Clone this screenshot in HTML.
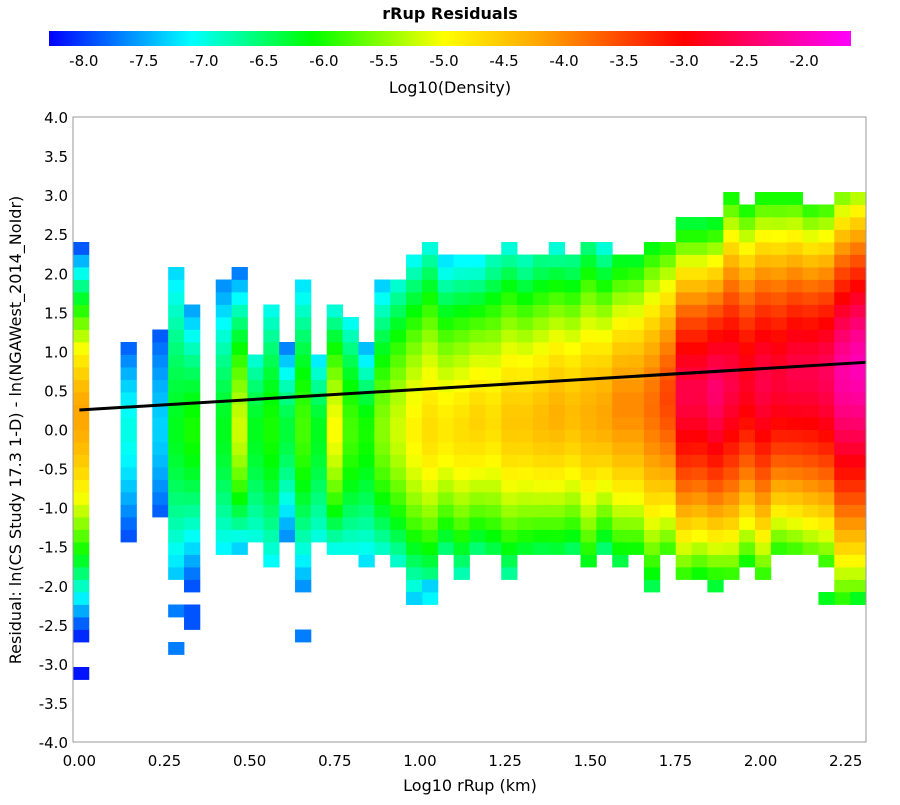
<!DOCTYPE html>
<html><head><meta charset="utf-8"><style>
body{margin:0;background:#fff;}
svg text{font-family:"DejaVu Sans","Liberation Sans",sans-serif;}
</style></head><body>
<svg id="chart" width="900" height="800" xmlns="http://www.w3.org/2000/svg">
<text x="450" y="19" text-anchor="middle" font-size="16" font-weight="bold">rRup Residuals</text>
<defs><linearGradient id="cb" x1="0" x2="1" y1="0" y2="0">
<stop offset="0" stop-color="#0000ff"/><stop offset="0.178" stop-color="#00ffff"/><stop offset="0.328" stop-color="#00ff00"/><stop offset="0.493" stop-color="#ffff00"/><stop offset="0.612" stop-color="#ffa500"/><stop offset="0.792" stop-color="#ff0000"/><stop offset="1" stop-color="#ff00ff"/></linearGradient></defs>
<rect x="49" y="31" width="802" height="15" fill="url(#cb)"/>
<g id="cbticks"></g>
<text x="450" y="93" text-anchor="middle" font-size="16">Log10(Density)</text>
<g id="cells"></g>
<line id="fit" stroke="#000" stroke-width="3"/>
<rect x="73" y="117" width="793" height="625" fill="none" stroke="#999" stroke-width="1"/>
<g id="axes"></g>
<text x="470" y="791" text-anchor="middle" font-size="16">Log10 rRup (km)</text>
<text transform="translate(21,430) rotate(-90)" text-anchor="middle" font-size="16">Residual: ln(CS Study 17.3 1-D) - ln(NGAWest_2014_NoIdr)</text>
</svg>
<script>
// column profiles (50 x-bins, y-bins of 0.16)
const colTop = [2.4,null,null,1.1,null,1.25,2.05,1.5,null,1.8,2.05,0.95,1.6,1.1,1.8,0.95,1.6,1.4,1.0,1.9,1.9,2.2,2.35,2.1,2.1,2.1,2.1,2.35,2.1,2.1,2.35,2.1,2.35,2.35,2.1,2.2,2.35,2.35,2.6,2.6,2.6,3.0,2.85,3.0,3.0,3.0,2.85,2.85,3.0,3.0];
const colBottom = [-2.6,null,null,-1.3,null,-1.1,-1.9,-1.95,null,-1.6,-1.5,-1.4,-1.7,-1.3,-2.0,-1.4,-1.5,-1.5,-1.75,-1.6,-1.75,-2.2,-2.2,-1.6,-1.9,-1.6,-1.6,-1.9,-1.6,-1.6,-1.5,-1.6,-1.75,-1.6,-1.75,-1.6,-2.0,-1.6,-1.9,-1.9,-2.0,-1.9,-1.75,-1.9,-1.5,-1.6,-1.6,-1.75,-2.2,-2.2];
const colPeak = [-4.2,null,null,-7.0,null,-7.3,-6.2,-6.0,null,-6.2,-5.2,-6.2,-6.0,-6.3,-5.8,-6.2,-5.0,-5.8,-6.0,-5.5,-5.2,-4.9,-4.7,-4.8,-4.7,-4.6,-4.7,-4.5,-4.5,-4.4,-4.3,-4.4,-4.3,-4.2,-4.0,-4.0,-3.8,-3.5,-2.6,-2.6,-2.4,-2.6,-2.8,-2.6,-2.7,-2.6,-2.6,-2.5,-2.1,-2.0];
const colCenter = [0.2,null,null,0,null,0,0,0,null,0,0,0,0,0,0,0,0,0,0,0,0,0,0,0,0,0.1,0.1,0.1,0.1,0.1,0.2,0.2,0.2,0.2,0.3,0.3,0.3,0.4,0.5,0.5,0.5,0.6,0.6,0.6,0.6,0.7,0.7,0.7,0.7,0.8];
const colTopEdge = [-8.1,null,null,-7.9,null,-7.9,-7.3,-7.5,null,-7.6,-7.8,-7.0,-7.1,-7.8,-7.2,-7.3,-7.1,-7.1,-7.4,-7.4,-7.0,-7.1,-7.0,-7.2,-7.1,-7.1,-6.8,-7.0,-6.8,-6.6,-7.0,-6.6,-6.6,-7.0,-6.2,-6.3,-6.2,-6.0,-6.3,-6.3,-6.2,-6.1,-6.1,-6.1,-6.1,-6.1,-6.0,-5.9,-5.6,-5.4];
const colBotEdge = [-8.1,null,null,-7.9,null,-7.9,-7.4,-7.9,null,-7.2,-7.3,-7.0,-7.1,-7.6,-7.6,-7.0,-7.0,-7.0,-7.3,-7.0,-7.0,-7.3,-7.2,-6.7,-6.9,-6.7,-6.5,-6.8,-6.4,-6.5,-6.3,-6.6,-6.3,-6.7,-6.5,-6.2,-6.4,-6.0,-6.0,-6.2,-6.3,-6.0,-6.2,-6.0,-5.9,-6.0,-5.8,-6.0,-6.0,-6.0];
// isolated cells: x-bin, y value, log density
const outCol = [0,6,6,7,7,14,21,22,47,49];
const outY = [-3.1,-2.4,-2.8,-2.4,-2.55,-2.65,-2.2,-2.05,-2.15,-2.15];
const outVal = [-8.2,-7.7,-7.7,-7.9,-7.9,-7.7,-7.3,-7.3,-6.2,-6.2];
const cbTicks = [-8.0,-7.5,-7.0,-6.5,-6.0,-5.5,-5.0,-4.5,-4.0,-3.5,-3.0,-2.5,-2.0];
const xTicks = [0,0.25,0.5,0.75,1.0,1.25,1.5,1.75,2.0,2.25];
const yTicks = [4,3.5,3,2.5,2,1.5,1,0.5,0,-0.5,-1,-1.5,-2,-2.5,-3,-3.5,-4];
const fitX = [0, 2.31];
const fitY = [0.25, 0.86];

const NS="http://www.w3.org/2000/svg";
const X0=-0.0186, X1=2.3095, PL=73, PR=866, PT=117, PB=742;
const sx=v=>PL+(v-X0)/(X1-X0)*(PR-PL);
const sy=v=>PT+(4-v)/8*(PB-PT);
const binW=(X1-X0)/50, binH=0.16;
const cbx=v=>49+(v+8.29)/(6.68)*802;
const stops=[[-8.29,[0,0,255]],[-7.1,[0,255,255]],[-6.1,[0,255,0]],[-5.0,[255,255,0]],[-4.2,[255,165,0]],[-3.0,[255,0,0]],[-1.61,[255,0,255]]];
function color(v){
  if(v<=stops[0][0])return 'rgb(0,0,255)';
  for(let i=1;i<stops.length;i++){ if(v<=stops[i][0]){const a=stops[i-1],b=stops[i];const t=(v-a[0])/(b[0]-a[0]);
    const c=a[1].map((q,k)=>Math.round(q+(b[1][k]-q)*t));return `rgb(${c})`;}}
  return 'rgb(255,0,255)';
}
const cells=document.getElementById('cells');
function cell(c,r,v){
  const rect=document.createElementNS(NS,'rect');
  
  
  const x=sx(X0+c*binW), y=sy(-4+(r+1)*binH);
  rect.setAttribute('x',x.toFixed(2));rect.setAttribute('y',y.toFixed(2));
  rect.setAttribute('width',(sx(X0+(c+1)*binW)-x+0.4).toFixed(2));
  rect.setAttribute('height',(sy(-4+r*binH)-y+0.4).toFixed(2));
  rect.setAttribute('fill',color(v));
  cells.appendChild(rect);
}
for(let c=0;c<50;c++){
  if(colTop[c]==null)continue;
  const r0=Math.floor((colBottom[c]+4)/binH), r1=Math.floor((colTop[c]+4)/binH-1e-6);
  for(let r=r0;r<=r1;r++){
    const yc=-4+(r+0.5)*binH, cen=colCenter[c];
    let t,edge;
    if(yc>=cen){t=(yc-cen)/Math.max(colTop[c]-cen,0.1);edge=colTopEdge[c];}
    else{t=(cen-yc)/Math.max(cen-colBottom[c],0.1);edge=colBotEdge[c];}
    t=Math.min(1,Math.max(0,t));
    cell(c,r,colPeak[c]+(edge-colPeak[c])*Math.pow(t,1.6));
  }
}
for(let i=0;i<outCol.length;i++) cell(outCol[i],Math.floor((outY[i]+4)/binH),outVal[i]);

const fit=document.getElementById('fit');
fit.setAttribute('x1',sx(fitX[0]));fit.setAttribute('y1',sy(fitY[0]));
fit.setAttribute('x2',sx(fitX[1]));fit.setAttribute('y2',sy(fitY[1]));

const cbt=document.getElementById('cbticks');
cbTicks.forEach(v=>{
  const t=document.createElementNS(NS,'text');
  
  
  t.setAttribute('x',cbx(v));t.setAttribute('y',66);t.setAttribute('text-anchor','middle');t.setAttribute('font-size','15');
  t.textContent=v.toFixed(1);cbt.appendChild(t);
});
const ax=document.getElementById('axes');
xTicks.forEach(v=>{
  const t=document.createElementNS(NS,'text');
  
  
  t.setAttribute('x',sx(v));t.setAttribute('y',766);t.setAttribute('text-anchor','middle');t.setAttribute('font-size','15');
  t.textContent=v.toFixed(2);ax.appendChild(t);
});
yTicks.forEach(v=>{
  const t=document.createElementNS(NS,'text');
  
  
  t.setAttribute('x',68);t.setAttribute('y',sy(v)+6);t.setAttribute('text-anchor','end');t.setAttribute('font-size','15');
  t.textContent=v.toFixed(1);ax.appendChild(t);
});
</script>
</body></html>
